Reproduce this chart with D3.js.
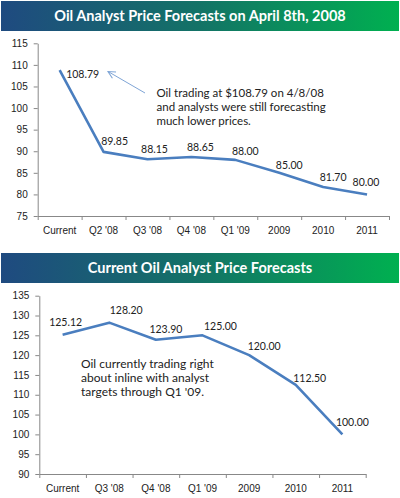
<!DOCTYPE html>
<html>
<head>
<meta charset="utf-8">
<script src="https://cdn.jsdelivr.net/npm/d3@7"></script>
<style>
  body { margin: 0; background: #fff; }
  svg { display: block; font-family: Lato, "Open Sans", sans-serif; }
  .axis path, .axis line { stroke: #888; }
  .axis text { fill: #222; font-size: 10px; }
</style>
</head>
<body>
<svg id="chart" width="400" height="498"></svg>
<script>
// top chart data (April 8th, 2008)
const aprCategories = ["Current", "Q2 '08", "Q3 '08", "Q4 '08", "Q1 '09", "2009", "2010", "2011"];
const aprValues = [108.79, 89.85, 88.15, 88.65, 88.00, 85.00, 81.70, 80.00];
const aprTicks = [75, 80, 85, 90, 95, 100, 105, 110, 115];

// bottom chart data (current)
const curCategories = ["Current", "Q3 '08", "Q4 '08", "Q1 '09", "2009", "2010", "2011"];
const curValues = [125.12, 128.20, 123.90, 125.00, 120.00, 112.50, 100.00];
const curTicks = [90, 95, 100, 105, 110, 115, 120, 125, 130, 135];

// label nudges (px), kept apart from the data
const aprLabelOffset = [[23, 4], [11, -11], [7, -10], [9, -10], [10, -9], [10, -8], [10, -10], [-1, -12]];
const curLabelOffset = [[3, -13], [17, -12], [10, -10], [18, -9], [15, -9], [14, -7], [10, -12]];

const svg = d3.select('#chart');

const defs = svg.append('defs');
const grad = defs.append('linearGradient').attr('id', 'banner');
grad.append('stop').attr('offset', '0%').attr('stop-color', '#1f4a80');
grad.append('stop').attr('offset', '50%').attr('stop-color', '#137366');
grad.append('stop').attr('offset', '100%').attr('stop-color', '#00b050');

defs.append('marker')
    .attr('id', 'arrow')
    .attr('viewBox', '0 0 10 10')
    .attr('refX', 9).attr('refY', 5)
    .attr('markerWidth', 9).attr('markerHeight', 9)
    .attr('markerUnits', 'userSpaceOnUse')
    .attr('orient', 'auto')
    .append('path')
    .attr('d', 'M1,1 L9,5 L1,9')
    .attr('fill', 'none')
    .attr('stroke', '#7fa5d6')
    .attr('stroke-width', 1.2);

function banner(y, h, title) {
    svg.append('rect')
        .attr('x', 1).attr('y', y).attr('width', 398).attr('height', h)
        .attr('fill', 'url(#banner)');
    svg.append('text')
        .attr('x', 200).attr('y', y + h / 2)
        .attr('dy', '0.35em')
        .attr('text-anchor', 'middle')
        .attr('fill', '#fff')
        .attr('font-size', '14.5px')
        .attr('font-weight', 'bold')
        .text(title);
}

function lineChart(cfg) {
    const { categories, values, ticks, x0, x1, y0, y1, offsets } = cfg;

    const x = d3.scaleBand().domain(categories).range([x0, x1]);
    const xEdge = d3.scaleLinear().domain([0, categories.length]).range([x0, x1]);
    const y = d3.scaleLinear().domain([ticks[0], ticks[ticks.length - 1]]).range([y0, y1]);

    const g = svg.append('g');

    g.append('g')
        .attr('class', 'axis')
        .attr('transform', `translate(${x0},0)`)
        .call(d3.axisLeft(y).tickValues(ticks).tickSize(4).tickSizeOuter(0).tickPadding(6))
        .call(a => a.selectAll('text').attr('font-size', '10px'));

    g.append('g')
        .attr('class', 'axis')
        .attr('transform', `translate(0,${y0})`)
        .call(d3.axisBottom(xEdge).tickValues(d3.range(categories.length + 1)).tickFormat('').tickSize(4).tickSizeOuter(0));

    g.append('g')
        .attr('class', 'axis')
        .attr('transform', `translate(0,${y0})`)
        .call(d3.axisBottom(x).tickSize(0).tickPadding(11))
        .call(a => a.select('.domain').remove());

    const line = d3.line()
        .x((d, i) => x(categories[i]) + x.bandwidth() / 2)
        .y(d => y(d));

    g.append('path')
        .datum(values)
        .attr('d', line)
        .attr('fill', 'none')
        .attr('stroke', '#4a7ebf')
        .attr('stroke-width', 2.6)
        .attr('stroke-linejoin', 'round');

    g.selectAll('.lbl')
        .data(values)
        .enter()
        .append('text')
        .attr('class', 'lbl')
        .attr('x', (d, i) => x(categories[i]) + x.bandwidth() / 2 + offsets[i][0])
        .attr('y', (d, i) => y(d) + offsets[i][1])
        .attr('dy', '0.35em')
        .attr('text-anchor', 'middle')
        .attr('font-size', '10.5px')
        .attr('fill', '#222')
        .text(d => d.toFixed(2));

    return { x, y, g };
}

banner(1, 30, 'Oil Analyst Price Forecasts on April 8th, 2008');
const aprChart = lineChart({
    categories: aprCategories, values: aprValues, ticks: aprTicks,
    x0: 37.7, x1: 389, y0: 216, y1: 43.3, offsets: aprLabelOffset
});

const note1 = ['Oil trading at $108.79  on 4/8/08', 'and analysts were still forecasting', 'much lower prices.'];
aprChart.g.append('g')
    .selectAll('text')
    .data(note1)
    .enter()
    .append('text')
    .attr('x', 156.5)
    .attr('y', (d, i) => 92.7 + i * 14)
    .attr('dy', '0.35em')
    .attr('font-size', '11.5px')
    .attr('fill', '#222')
    .text(d => d);

aprChart.g.append('line')
    .attr('x1', 145).attr('y1', 93)
    .attr('x2', 108).attr('y2', 71.5)
    .attr('stroke', '#7fa5d6')
    .attr('stroke-width', 1)
    .attr('marker-end', 'url(#arrow)');

banner(253, 30, 'Current Oil Analyst Price Forecasts');
const curChart = lineChart({
    categories: curCategories, values: curValues, ticks: curTicks,
    x0: 39.3, x1: 365.7, y0: 474, y1: 295.7, offsets: curLabelOffset
});

const note2 = ['Oil currently trading right', 'about inline with analyst', "targets through Q1 '09."];
curChart.g.append('g')
    .selectAll('text')
    .data(note2)
    .enter()
    .append('text')
    .attr('x', 81)
    .attr('y', (d, i) => 363.5 + i * 14.2)
    .attr('dy', '0.35em')
    .attr('font-size', '12px')
    .attr('fill', '#222')
    .text(d => d);
</script>
</body>
</html>
